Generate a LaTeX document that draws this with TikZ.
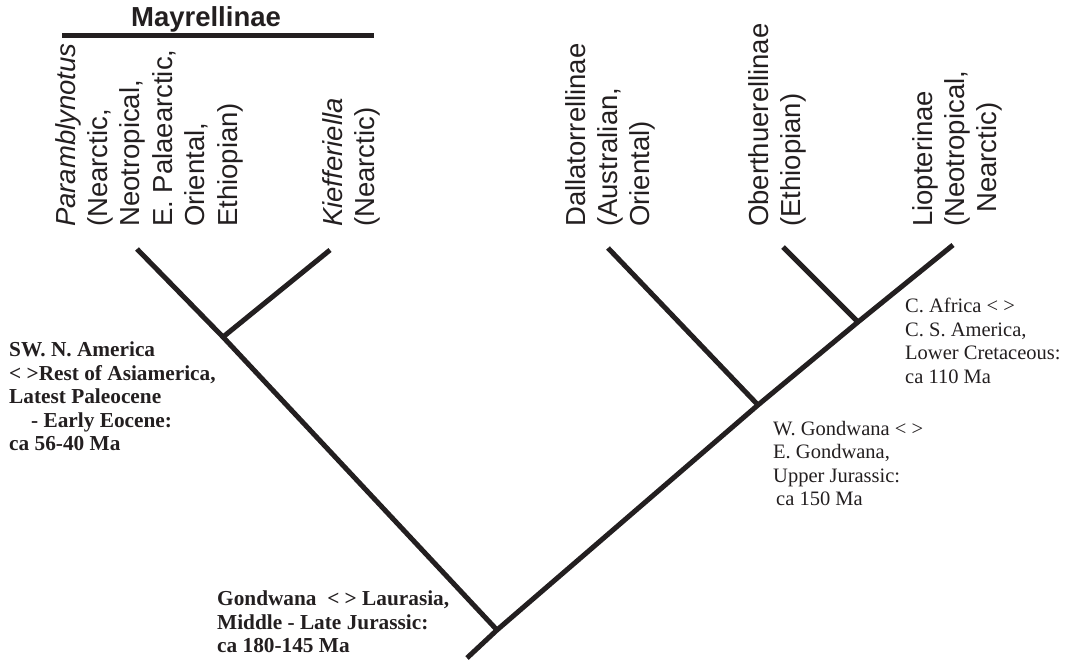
\documentclass[tikz,border=0pt]{standalone}
\usepackage{fontspec}
\setmainfont{Liberation Serif}
\newfontfamily\taxfont{Liberation Sans}
\definecolor{ink}{RGB}{35,31,32}
\tikzset{branch/.style = {line width=5pt, draw=ink}}
\tikzset{taxon/.style = {rotate=90, anchor=north west, inner sep=0, align=left, text=ink,
                         font=\taxfont\fontsize{27.5}{32.4}\selectfont}}
\tikzset{event/.style = {anchor=north west, inner sep=0, align=left, text=ink,
                         font=\bfseries\fontsize{21.3}{23.5}\selectfont}}
\tikzset{split/.style = {anchor=north west, inner sep=0, align=left, text=ink,
                         font=\fontsize{20.5}{23.5}\selectfont}}
\begin{document}
\begin{tikzpicture}[x=1pt, y=-1pt]
      \useasboundingbox (0,0) rectangle (1077,660);

      \coordinate (root) at (497,630);
      \coordinate (stub) at (467,658);
      \coordinate (mayr) at (223,337);
      \coordinate (gond) at (758,405);
      \coordinate (afr) at (858,322);
      \coordinate (tipPara) at (137,249);
      \coordinate (tipKief) at (330,250);
      \coordinate (tipDall) at (608,248);
      \coordinate (tipOber) at (783,247);
      \coordinate (tipLiop) at (953,245);

      \draw [branch] (stub) -- (root) -- (gond) -- (afr) -- (tipLiop);
      \draw [branch] (root) -- (mayr) -- (tipPara);
      \draw [branch] (mayr) -- (tipKief);
      \draw [branch] (gond) -- (tipDall);
      \draw [branch] (afr) -- (tipOber);

      \node [taxon] (para) at (55,227) {\textit{Paramblynotus}\\(Nearctic,\\Neotropical,\\E. Palaearctic,\\Oriental,\\Ethiopian)};
      \node [taxon] (kief) at (322,227) {\textit{Kiefferiella}\\(Nearctic)};
      \node [taxon] (dall) at (565,227) {Dallatorrellinae\\(Australian,\\Oriental)};
      \node [taxon] (ober) at (748,227) {Oberthuerellinae\\(Ethiopian)};
      \node [taxon] (liop) at (912,227) {Liopterinae\\(Neotropical,\\\hspace*{14pt}Nearctic)};

      \coordinate (barL) at (62,36);
      \coordinate (barR) at (374,36);
      \draw [branch] (barL) -- (barR);
      \node [anchor=base, inner sep=0, text=ink, font=\taxfont\bfseries\fontsize{27.5}{32}\selectfont] (mayrlab) at (206,27) {Mayrellinae};

      \node [event] (asia) at (9,342) {SW. N. America\\< >Rest of Asiamerica,\\Latest Paleocene\\\hspace*{22pt}- Early Eocene:\\ca 56-40 Ma};
      \node [event] (laur) at (217,591) {Gondwana\ \ < > Laurasia,\\Middle - Late Jurassic:\\ca 180-145 Ma};
      \node [split] (wgond) at (773,421) {W. Gondwana < >\\E. Gondwana,\\Upper Jurassic:\\\hspace*{3pt}ca 150 Ma};
      \node [split] (cafr) at (905,298) {C. Africa < >\\C. S. America,\\Lower Cretaceous:\\ca 110 Ma};
    \end{tikzpicture}
\end{document}
